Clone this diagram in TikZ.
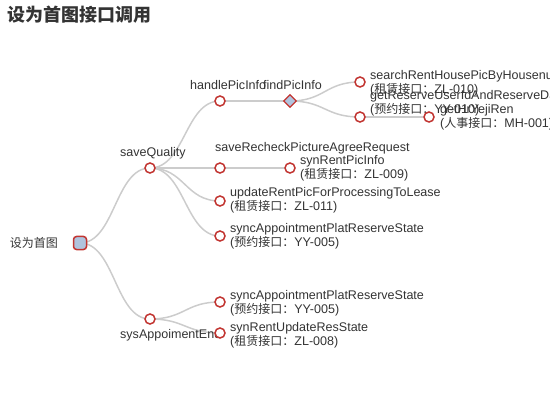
\documentclass[tikz,border=0pt]{standalone}
\usepackage{fontspec}
\setmainfont[Scale=1.045]{Liberation Sans}
\newfontfamily\cjk{Noto Sans CJK SC}
\usetikzlibrary{calc,shapes.geometric,backgrounds}
\definecolor{nodered}{HTML}{C23531}
\definecolor{steel}{HTML}{B0C4DE}
\definecolor{edgegray}{HTML}{CCCCCC}
\definecolor{txt}{HTML}{333333}
\newcommand\zh[1]{{\cjk #1}}
\newcommand\tlink[2]{\draw[edgeline] let \p1=(#1.center), \p2=(#2.center) in (\p1) .. controls ({0.5*\x1+0.5*\x2},\y1) and ({0.5*\x1+0.5*\x2},\y2) .. (\p2);}
\begin{document}
\begin{tikzpicture}[x=1pt,y=-1pt,
  tnode/.style={circle,draw=nodered,fill=white,line width=1.5pt,minimum size=10pt,inner sep=0pt},
  rootnode/.style={rectangle,rounded corners=3pt,draw=nodered,fill=steel,line width=1.5pt,minimum size=13pt,inner sep=0pt},
  dnode/.style={diamond,draw=nodered,fill=steel,line width=1.2pt,minimum width=13pt,minimum height=13pt,inner sep=0pt},
  lbl/.style={font=\fontsize{12pt}{12pt}\selectfont,text=txt,inner sep=0pt,align=left,anchor=west},
  edgeline/.style={draw=edgegray,line width=1.5pt}]
\useasboundingbox (0,0) rectangle (550,420);
\clip (0,0) rectangle (550,420);
\node[anchor=west,inner sep=0pt,text=txt,font=\fontsize{18pt}{18pt}\selectfont\cjk\bfseries] (title) at (7,15) {设为首图接口调用};
% root
\node[rootnode] (root) at (80,243) {};
\node[lbl,anchor=east] (rootl) at (58,243) {\zh{设为首图}};
% saveQuality
\node[tnode] (sq) at (150,168) {};
\node[lbl] (sql) at (120,153) {saveQuality};
\node[tnode] (hp) at (220,101) {};
\node[lbl] (hpl) at (190,85) {handlePicInfo};
\node[dnode] (fp) at (290,101) {};
\node[lbl] (fpl) at (263,85) {findPicInfo};
\node[tnode] (sr) at (360,82) {};
\node[lbl] (srl) at (370,83) {searchRentHousePicByHousenum\\(\zh{租赁接口：}ZL-010)};
\node[tnode] (gr) at (360,117) {};
\node[lbl] (grl) at (370,103.5) {getReserveUserIdAndReserveDate\\(\zh{预约接口：}YY-010)};
\node[tnode] (gh) at (429,117) {};
\node[lbl] (ghl) at (440,117.5) {getHrYejiRen\\(\zh{人事接口：}MH-001)};
\node[tnode] (rc) at (220,168) {};
\node[lbl] (rcl) at (215,148) {saveRecheckPictureAgreeRequest};
\node[tnode] (rp) at (290,168) {};
\node[lbl] (rpl) at (300,168.5) {synRentPicInfo\\(\zh{租赁接口：}ZL-009)};
\node[tnode] (up) at (220,201) {};
\node[lbl] (upl) at (230,200.5) {updateRentPicForProcessingToLease\\(\zh{租赁接口：}ZL-011)};
\node[tnode] (sa) at (220,236) {};
\node[lbl] (sal) at (230,236) {syncAppointmentPlatReserveState\\(\zh{预约接口：}YY-005)};
% sysAppoimentEnd
\node[tnode] (se) at (150,319) {};
\node[lbl] (sel) at (120,335) {sysAppoimentEnd};
\node[tnode] (sb) at (220,302) {};
\node[lbl] (sbl) at (230,303) {syncAppointmentPlatReserveState\\(\zh{预约接口：}YY-005)};
\node[tnode] (su) at (220,333) {};
\node[lbl] (sul) at (230,335) {synRentUpdateResState\\(\zh{租赁接口：}ZL-008)};
\begin{scope}[on background layer]
\tlink{root}{sq}
\tlink{root}{se}
\tlink{sq}{hp}
\tlink{hp}{fp}
\tlink{fp}{sr}
\tlink{fp}{gr}
\tlink{gr}{gh}
\tlink{sq}{rc}
\tlink{rc}{rp}
\tlink{sq}{up}
\tlink{sq}{sa}
\tlink{se}{sb}
\tlink{se}{su}
\end{scope}
\end{tikzpicture}
\end{document}
